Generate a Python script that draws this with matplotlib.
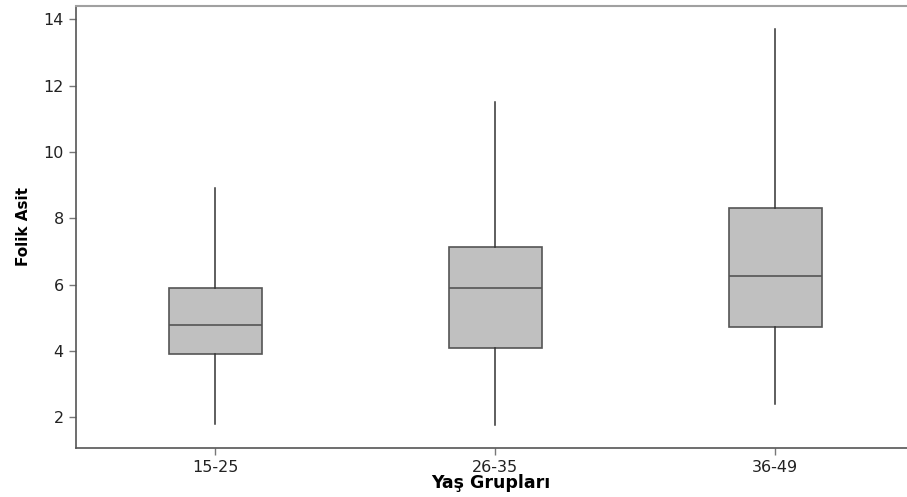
import matplotlib
matplotlib.use("Agg")
import matplotlib.pyplot as plt

groups = ["15-25", "26-35", "36-49"]
whislo = [1.79, 1.77, 2.40]
q1 = [3.91, 4.10, 4.72]
med = [4.78, 5.89, 6.26]
q3 = [5.89, 7.14, 8.30]
whishi = [8.90, 11.51, 13.70]
yticks = [2, 4, 6, 8, 10, 12, 14]

fig = plt.figure(figsize=(9.07, 4.97), dpi=100)
ax = fig.add_axes([75.5 / 907, 1 - 448 / 497, 1 - 75.5 / 907, (448 - 6) / 497])

stats = []
for i, g in enumerate(groups):
    stats.append(dict(label=g, whislo=whislo[i], q1=q1[i], med=med[i],
                      q3=q3[i], whishi=whishi[i], fliers=[]))

ax.bxp(stats, positions=[1, 2, 3], widths=0.334, patch_artist=True,
       showcaps=False, showfliers=False,
       boxprops=dict(facecolor="#c0c0c0", edgecolor="#555555", linewidth=1.2),
       medianprops=dict(color="#555555", linewidth=1.2),
       whiskerprops=dict(color="#333333", linewidth=1.1))

ax.set_xlim(0.5, 3 + (907 - 775.3) / 280)
ax.set_ylim(1.075, 14.40)
ax.set_yticks(yticks)
ax.set_xticks([1, 2, 3])
ax.set_xticklabels(groups)

for s in ["left", "bottom"]:
    ax.spines[s].set_color("#555555")
    ax.spines[s].set_linewidth(1.2)
ax.spines["top"].set_color("#a0a0a0")
ax.spines["top"].set_linewidth(1.5)
ax.spines["right"].set_visible(False)

ax.tick_params(axis="both", colors="#777777", labelcolor="#222222",
               labelsize=11.5, length=5, width=1)
ax.tick_params(axis="x", pad=4)

ax.set_ylabel("Folik Asit", fontsize=11, fontweight="bold", labelpad=9)
ax.set_xlabel("Yaş Grupları", fontsize=12.5, fontweight="bold", labelpad=-1)

fig.savefig("out.png", dpi=100)
